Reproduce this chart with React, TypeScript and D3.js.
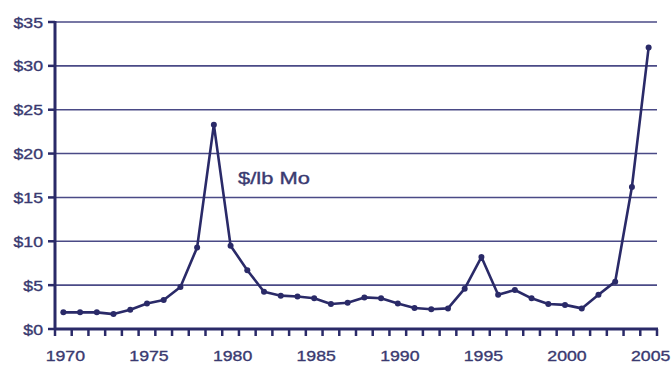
import React from "react";
import * as d3 from "d3";

const years: number[] = d3.range(1970, 2006);
const prices: number[] = [
  1.9, 1.9, 1.9, 1.7, 2.2, 2.9, 3.3, 4.8, 9.3, 23.3,
  9.5, 6.7, 4.25, 3.8, 3.7, 3.5, 2.85, 3.0, 3.6, 3.5,
  2.9, 2.4, 2.25, 2.35, 4.6, 8.2, 3.9, 4.45, 3.5, 2.85,
  2.75, 2.35, 3.9, 5.4, 16.2, 32.1,
];
const yTicks: number[] = [0, 5, 10, 15, 20, 25, 30, 35];
const xLabels: number[] = [1970, 1975, 1980, 1985, 1990, 1995, 2000, 2005];
const seriesLabel = "$/lb Mo";

const W = 672, H = 365;
const left = 55, right = 657, top = 22, bottom = 329;
const ink = "#2a2a68";
const textInk = "#3a3a70";
const font = "'Liberation Sans', Arial, sans-serif";

function Label(props: { x: number; y: number; anchor: string; size: number; sx: number; children: React.ReactNode }) {
  return (
    <text
      transform={`translate(${props.x},${props.y}) scale(${props.sx},1)`}
      textAnchor={props.anchor}
      fontFamily={font}
      fontSize={props.size}
      fill={textInk}
      stroke={textInk}
      strokeWidth={0.35}
    >
      {props.children}
    </text>
  );
}

export default function App() {
  const x = d3.scaleBand<number>().domain(years).range([left, right]);
  const y = d3.scaleLinear().domain([0, 35]).range([bottom, top]);
  const cx = (yr: number) => (x(yr) ?? 0) + x.bandwidth() / 2;
  const line = d3.line<number>().x((_, i) => cx(years[i])).y((d) => y(d));
  return (
    <svg width={W} height={H} style={{ position: "absolute", left: 0, top: 0, background: "#fff" }}>
      {yTicks.map((t) => (
        <g key={t}>
          {t > 0 && <line x1={left} x2={right} y1={y(t)} y2={y(t)} stroke="#4a4a86" strokeWidth={1.6} />}
          <line x1={left - 7} x2={left} y1={y(t)} y2={y(t)} stroke={ink} strokeWidth={2.5} />
          <Label x={43} y={y(t) + 5.5} anchor="end" size={15} sx={1.18}>
            ${t}
          </Label>
        </g>
      ))}
      {d3.range(years.length + 1).map((i) => {
        const xx = left + i * x.step();
        return <line key={i} x1={xx} x2={xx} y1={bottom} y2={bottom + 7} stroke={ink} strokeWidth={2.5} />;
      })}
      <line x1={left} x2={left} y1={top - 1} y2={bottom + 1} stroke={ink} strokeWidth={3} />
      <line x1={left} x2={right + 1} y1={bottom} y2={bottom} stroke={ink} strokeWidth={3} />
      {xLabels.map((yr) => (
        <Label key={yr} x={cx(yr) + 2} y={360.5} anchor="middle" size={15} sx={1.18}>
          {yr}
        </Label>
      ))}
      <path d={line(prices) ?? ""} fill="none" stroke={ink} strokeWidth={2.6} strokeLinejoin="round" />
      {prices.map((p, i) => (
        <circle key={i} cx={cx(years[i])} cy={y(p)} r={3} fill={ink} />
      ))}
      <Label x={238} y={184} anchor="start" size={16.5} sx={1.33}>
        {seriesLabel}
      </Label>
    </svg>
  );
}
